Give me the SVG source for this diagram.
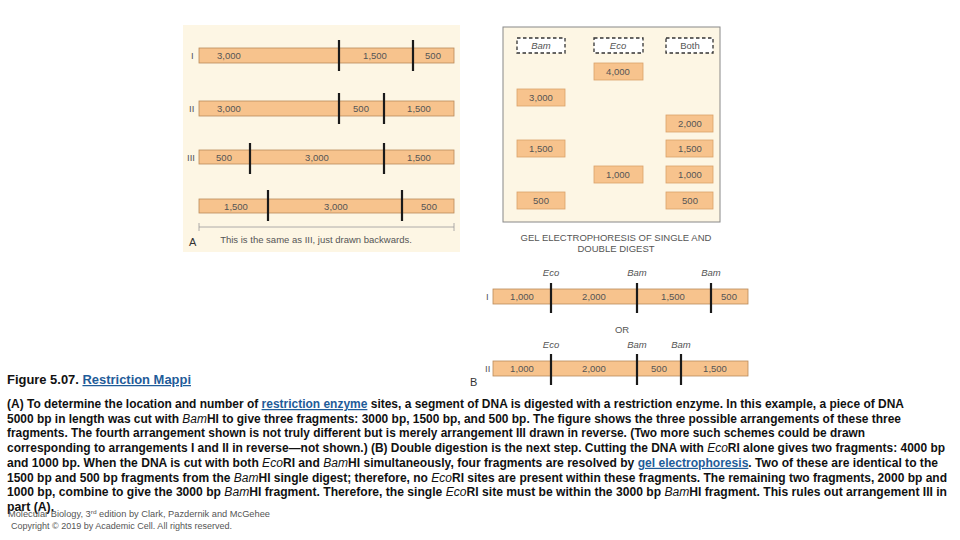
<svg xmlns="http://www.w3.org/2000/svg" width="960" height="540" viewBox="0 0 960 540">
<style>
.bar{fill:#f7c38d;stroke:#b98a5a;stroke-width:0.8}
.cut{stroke:#1a1a1a;stroke-width:2.2}
.lbl{font-family:"Liberation Sans",Arial,sans-serif;font-size:9.5px;fill:#555}
.lblc{font-family:"Liberation Sans",Arial,sans-serif;font-size:9.5px;fill:#555;text-anchor:middle}
.it{font-style:italic}
.dash{fill:#fff;stroke:#333;stroke-width:1.3;stroke-dasharray:3.5 2.5}
.gbox{fill:#f7c38d;stroke:#d9a26a;stroke-width:0.8}
.body{font-family:"Liberation Sans",Arial,sans-serif;font-size:12.3px;font-weight:bold;fill:#111}
.link{fill:#1f5c99;text-decoration:underline}
.foot{font-family:"Liberation Sans",Arial,sans-serif;font-size:8.5px;fill:#555}
</style>
<rect width="960" height="540" fill="#fff"/>

<!-- Panel A -->
<g id="panelA">
<rect x="183" y="25" width="277" height="227" fill="#fdf6e4"/>
<g id="rowI">
<text class="lbl" x="191" y="59">I</text>
<rect class="bar" x="199" y="48" width="255" height="15"/>
<line class="cut" x1="339" y1="40" x2="339" y2="71"/>
<line class="cut" x1="413" y1="40" x2="413" y2="71"/>
<text class="lbl" x="217" y="59">3,000</text>
<text class="lblc" x="375" y="59">1,500</text>
<text class="lblc" x="433" y="59">500</text>
</g>
<g id="rowII">
<text class="lbl" x="189" y="112">II</text>
<rect class="bar" x="199" y="101" width="255" height="15"/>
<line class="cut" x1="339" y1="93" x2="339" y2="124"/>
<line class="cut" x1="384" y1="93" x2="384" y2="124"/>
<text class="lbl" x="217" y="112">3,000</text>
<text class="lblc" x="361" y="112">500</text>
<text class="lblc" x="419" y="112">1,500</text>
</g>
<g id="rowIII">
<text class="lbl" x="187" y="161">III</text>
<rect class="bar" x="199" y="150" width="255" height="14"/>
<line class="cut" x1="250" y1="143" x2="250" y2="174"/>
<line class="cut" x1="384" y1="143" x2="384" y2="174"/>
<text class="lblc" x="224" y="161">500</text>
<text class="lblc" x="317" y="161">3,000</text>
<text class="lblc" x="419" y="161">1,500</text>
</g>
<g id="rowIV">
<rect class="bar" x="199" y="199" width="255" height="14"/>
<line class="cut" x1="268" y1="190" x2="268" y2="221"/>
<line class="cut" x1="402" y1="190" x2="402" y2="221"/>
<text class="lblc" x="236" y="210">1,500</text>
<text class="lblc" x="336" y="210">3,000</text>
<text class="lblc" x="429" y="210">500</text>
</g>
<g id="scaleA">
<line x1="199" y1="227" x2="454" y2="227" stroke="#999" stroke-width="0.8"/>
<line x1="199" y1="223" x2="199" y2="231" stroke="#999" stroke-width="0.8"/>
<line x1="454" y1="223" x2="454" y2="231" stroke="#999" stroke-width="0.8"/>
</g>
<text x="189" y="246" font-family="Liberation Sans,Arial,sans-serif" font-size="11" fill="#333">A</text>
<text class="lblc" x="316" y="243" fill="#333">This is the same as III, just drawn backwards.</text>
</g>

<!-- Gel panel -->
<g id="gel">
<rect x="503" y="27" width="217" height="195" fill="#fdf6e4" stroke="#888" stroke-width="1"/>
<g id="hdrBam"><rect class="dash" x="517" y="38" width="48" height="15"/><text class="lblc it" x="541" y="49">Bam</text></g>
<g id="hdrEco"><rect class="dash" x="594" y="38" width="49" height="15"/><text class="lblc it" x="618" y="49">Eco</text></g>
<g id="hdrBoth"><rect class="dash" x="666" y="38" width="47" height="15"/><text class="lblc" x="690" y="49">Both</text></g>
<g id="eco4000"><rect class="gbox" x="594" y="63" width="49" height="17"/><text class="lblc" x="618" y="75">4,000</text></g>
<g id="bam3000"><rect class="gbox" x="517" y="89" width="48" height="17"/><text class="lblc" x="541" y="101">3,000</text></g>
<g id="both2000"><rect class="gbox" x="666" y="115" width="47" height="17"/><text class="lblc" x="690" y="127">2,000</text></g>
<g id="bam1500"><rect class="gbox" x="517" y="140" width="48" height="17"/><text class="lblc" x="541" y="152">1,500</text></g>
<g id="both1500"><rect class="gbox" x="666" y="140" width="47" height="17"/><text class="lblc" x="690" y="152">1,500</text></g>
<g id="eco1000"><rect class="gbox" x="594" y="166" width="49" height="17"/><text class="lblc" x="618" y="178">1,000</text></g>
<g id="both1000"><rect class="gbox" x="666" y="166" width="47" height="17"/><text class="lblc" x="690" y="178">1,000</text></g>
<g id="bam500"><rect class="gbox" x="517" y="192" width="48" height="17"/><text class="lblc" x="541" y="204">500</text></g>
<g id="both500"><rect class="gbox" x="666" y="192" width="47" height="17"/><text class="lblc" x="690" y="204">500</text></g>
<text class="lblc" x="616" y="241" fill="#333">GEL ELECTROPHORESIS OF SINGLE AND</text>
<text class="lblc" x="616" y="252" fill="#333">DOUBLE DIGEST</text>
</g>

<!-- Panel B -->
<g id="panelB">
<g id="mapBI">
<text class="lbl" x="486" y="300">I</text>
<text class="lblc it" x="551" y="276">Eco</text>
<text class="lblc it" x="637" y="276">Bam</text>
<text class="lblc it" x="711" y="276">Bam</text>
<rect class="bar" x="493" y="289" width="255" height="15"/>
<line class="cut" x1="551" y1="283" x2="551" y2="313"/>
<line class="cut" x1="637" y1="283" x2="637" y2="313"/>
<line class="cut" x1="711" y1="283" x2="711" y2="313"/>
<text class="lblc" x="522" y="300">1,000</text>
<text class="lblc" x="594" y="300">2,000</text>
<text class="lblc" x="673" y="300">1,500</text>
<text class="lblc" x="729" y="300">500</text>
</g>
<text class="lblc" x="622" y="333">OR</text>
<g id="mapBII">
<text class="lbl" x="485" y="372">II</text>
<text class="lblc it" x="551" y="348">Eco</text>
<text class="lblc it" x="637" y="348">Bam</text>
<text class="lblc it" x="681" y="348">Bam</text>
<rect class="bar" x="493" y="361" width="255" height="15"/>
<line class="cut" x1="551" y1="354" x2="551" y2="385"/>
<line class="cut" x1="637" y1="354" x2="637" y2="385"/>
<line class="cut" x1="681" y1="354" x2="681" y2="385"/>
<text class="lblc" x="522" y="372">1,000</text>
<text class="lblc" x="594" y="372">2,000</text>
<text class="lblc" x="659" y="372">500</text>
<text class="lblc" x="715" y="372">1,500</text>
</g>
<text x="470" y="386" font-family="Liberation Sans,Arial,sans-serif" font-size="11" fill="#333">B</text>
</g>

<!-- Caption -->
<g id="caption">
<text class="body" x="7" y="384" textLength="184" lengthAdjust="spacingAndGlyphs">Figure 5.07. <tspan class="link">Restriction Mappi</tspan> <tspan class="link"> </tspan></text>
<text class="body" x="7" y="408" textLength="897" lengthAdjust="spacingAndGlyphs">(A) To determine the location and number of <tspan class="link">restriction enzyme</tspan> sites, a segment of DNA is digested with a restriction enzyme. In this example, a piece of DNA</text>
<text class="body" x="7" y="422.7" textLength="894" lengthAdjust="spacingAndGlyphs">5000 bp in length was cut with <tspan font-style="italic" font-weight="normal">Bam</tspan>HI to give three fragments: 3000 bp, 1500 bp, and 500 bp. The figure shows the three possible arrangements of these three</text>
<text class="body" x="7" y="437.4" textLength="858" lengthAdjust="spacingAndGlyphs">fragments. The fourth arrangement shown is not truly different but is merely arrangement III drawn in reverse. (Two more such schemes could be drawn</text>
<text class="body" x="7" y="452.1" textLength="938" lengthAdjust="spacingAndGlyphs">corresponding to arrangements I and II in reverse—not shown.) (B) Double digestion is the next step. Cutting the DNA with <tspan font-style="italic" font-weight="normal">Eco</tspan>RI alone gives two fragments: 4000 bp</text>
<text class="body" x="7" y="466.8" textLength="931" lengthAdjust="spacingAndGlyphs">and 1000 bp. When the DNA is cut with both <tspan font-style="italic" font-weight="normal">Eco</tspan>RI and <tspan font-style="italic" font-weight="normal">Bam</tspan>HI simultaneously, four fragments are resolved by <tspan class="link">gel electrophoresis</tspan>. Two of these are identical to the</text>
<text class="body" x="7" y="481.5" textLength="940" lengthAdjust="spacingAndGlyphs">1500 bp and 500 bp fragments from the <tspan font-style="italic" font-weight="normal">Bam</tspan>HI single digest; therefore, no <tspan font-style="italic" font-weight="normal">Eco</tspan>RI sites are present within these fragments. The remaining two fragments, 2000 bp and</text>
<text class="body" x="7" y="496.2" textLength="940" lengthAdjust="spacingAndGlyphs">1000 bp, combine to give the 3000 bp <tspan font-style="italic" font-weight="normal">Bam</tspan>HI fragment. Therefore, the single <tspan font-style="italic" font-weight="normal">Eco</tspan>RI site must be within the 3000 bp <tspan font-style="italic" font-weight="normal">Bam</tspan>HI fragment. This rules out arrangement III in</text>
<text class="body" x="7" y="510.9">part (A).</text>
<text class="foot" x="8" y="517" textLength="262" lengthAdjust="spacingAndGlyphs">Molecular Biology, 3<tspan font-size="6" dy="-3">rd</tspan><tspan dy="3"> edition by Clark, Pazdernik and McGehee</tspan></text>
<text class="foot" x="11" y="529" textLength="221" lengthAdjust="spacingAndGlyphs">Copyright © 2019 by Academic Cell. All rights reserved.</text>
</g>
</svg>
